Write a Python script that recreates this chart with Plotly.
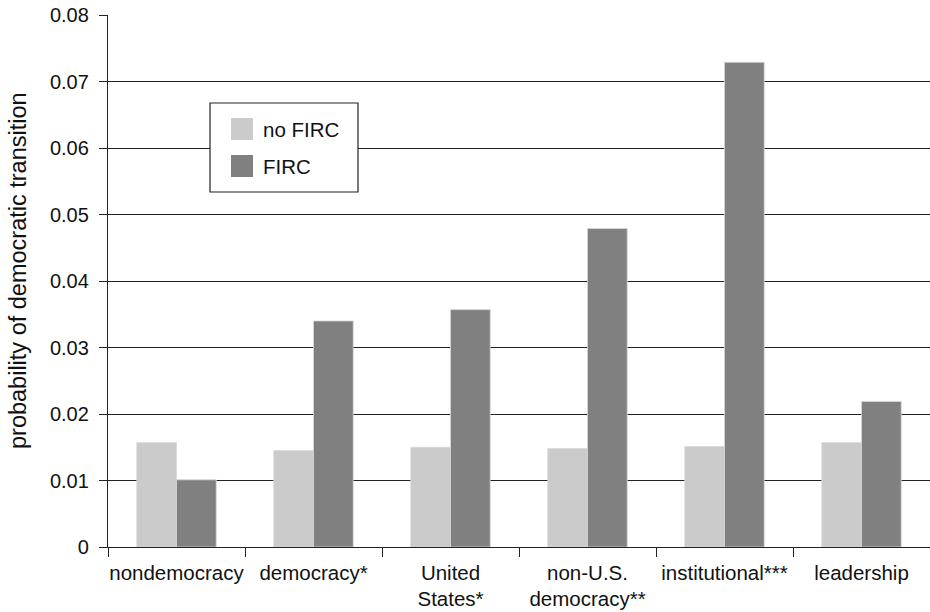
import plotly.graph_objects as go

categories = ["nondemocracy", "democracy*", "United<br>States*", "non-U.S.<br>democracy**",
              "institutional***", "leadership"]
no_firc = [0.0157, 0.0145, 0.0150, 0.0148, 0.0151, 0.0157]
firc = [0.0101, 0.0340, 0.0357, 0.0479, 0.0729, 0.0219]
series_names = ["no FIRC", "FIRC"]
series_colors = ["#cbcbcb", "#808080"]
y_ticks = [0, 0.01, 0.02, 0.03, 0.04, 0.05, 0.06, 0.07, 0.08]
y_tick_text = ["0", "0.01", "0.02", "0.03", "0.04", "0.05", "0.06", "0.07", "0.08"]
y_title = "probability of democratic transition"

# body margin is removed in the page (post_script), so the figure fills the window
W, H = 930, 612
ML, MR, MT, MB = 108, 0, 15, 65
PW, PH = W - ML - MR, H - MT - MB

def px(x):
    return (x - ML) / PW

def py(y):
    return (H - MB - y) / PH

FONT = "Liberation Sans, Arial, Helvetica, sans-serif"
TXT = "#111111"

fig = go.Figure()
for name, vals, col in zip(series_names, [no_firc, firc], series_colors):
    fig.add_trace(go.Bar(x=categories, y=vals, name=name, marker_color=col,
                         marker_line=dict(color="#d8d8d8", width=0.8),
                         showlegend=False, hoverinfo="skip"))

# manual legend (box, swatches, labels)
shapes = [dict(type="rect", xref="paper", yref="paper", x0=px(210), x1=px(358),
               y0=py(192), y1=py(103), line=dict(color="#222222", width=1.2),
               fillcolor="white", layer="above")]
annotations = []
swatch_tops = [118, 155]
for name, col, top in zip(series_names, series_colors, swatch_tops):
    shapes.append(dict(type="rect", xref="paper", yref="paper", x0=px(231), x1=px(253),
                       y0=py(top + 22), y1=py(top), line=dict(width=0),
                       fillcolor=col, layer="above"))
    annotations.append(dict(text=name, xref="paper", yref="paper", x=px(261), y=py(top + 11),
                            xanchor="left", yanchor="middle", showarrow=False,
                            font=dict(size=20.5, color=TXT, family=FONT)))

# y-axis title as rotated annotation (positioned like the reference)
annotations.append(dict(text=y_title, xref="paper", yref="paper", x=px(18), y=py(271),
                        xanchor="center", yanchor="middle", textangle=-90, showarrow=False,
                        borderpad=0, font=dict(size=23.5, color=TXT, family=FONT)))

fig.update_layout(
    width=W, height=H,
    margin=dict(l=ML, r=MR, t=MT, b=MB),
    paper_bgcolor="white", plot_bgcolor="white",
    barmode="group", bargap=0.42, bargroupgap=0,
    font=dict(family=FONT, size=20, color=TXT),
    shapes=shapes, annotations=annotations,
    xaxis=dict(showline=True, linecolor="#222222", linewidth=1.3,
               ticks="outside", ticklen=9, tickwidth=1.3, tickcolor="#222222",
               tickson="boundaries", showgrid=False, tickangle=0, automargin=False,
               ticklabelstandoff=7,
               tickfont=dict(size=20.5, family=FONT, color=TXT)),
    yaxis=dict(range=[0, 0.08001], tickvals=y_ticks, ticktext=y_tick_text,
               showline=True, linecolor="#222222", linewidth=1.3,
               ticks="outside", ticklen=8, tickwidth=1.3, tickcolor="#222222",
               showgrid=True, gridcolor="#222222", gridwidth=1.3,
               zeroline=False, automargin=False, ticklabelstandoff=6,
               ticklabeloverflow="allow",
               tickfont=dict(size=20, family=FONT, color=TXT)),
)

fig.write_html("out.html", config={"displayModeBar": False},
               post_script="document.body.style.margin='0px';document.body.style.overflow='hidden';")
